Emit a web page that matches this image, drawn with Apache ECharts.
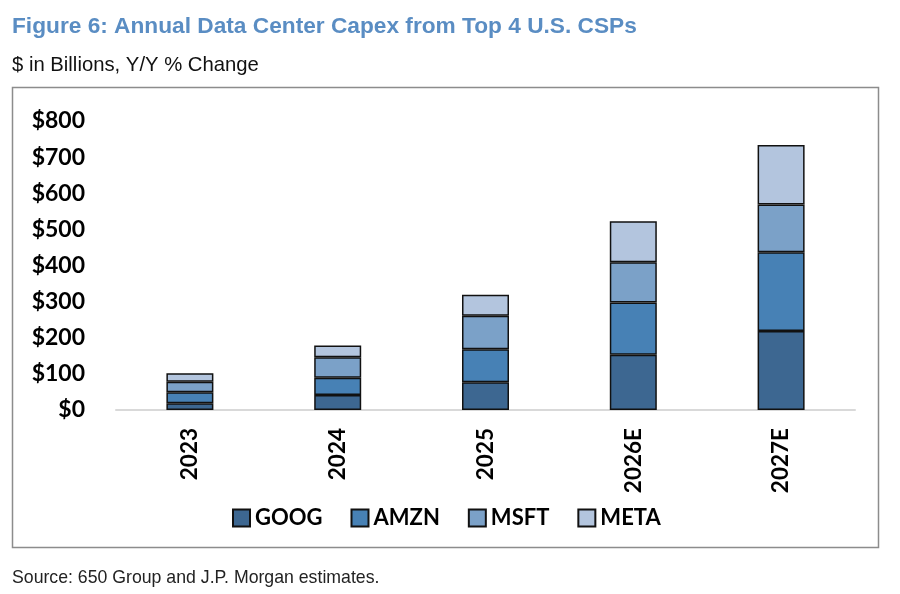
<!DOCTYPE html>
<html><head><meta charset="utf-8">
<script src="https://cdn.jsdelivr.net/npm/echarts@6/dist/echarts.min.js"></script>
<style>html,body{margin:0;padding:0;background:#fff}#c{width:900px;height:594px}</style>
</head><body><div id="c"></div>
<script>
const categories = ['2023', '2024', '2025', '2026E', '2027E'];
const goog = [18.5, 41.6, 76.9, 152.6, 218.4];
const amzn = [30.5, 48.0, 91.5, 145.1, 218.1];
const msft = [29.0, 56.6, 92.4, 111.0, 132.3];
const meta = [23.6, 32.2, 58.2, 113.8, 164.6];
const yTicks = [0, 100, 200, 300, 400, 500, 600, 700, 800];
const seriesNames = ['GOOG', 'AMZN', 'MSFT', 'META'];
const seriesColors = ['#3d6791', '#4781b5', '#7ba1c8', '#b3c5de'];
const seriesData = [goog, amzn, msft, meta];

const chart = echarts.init(document.getElementById('c'));
const axisFont = 'Lato, "Noto Sans", sans-serif';
const narrow = '"Liberation Sans Narrow", "Liberation Sans", Arial, sans-serif';
chart.setOption({
  animation: false,
  grid: { left: 116, right: 45, top: 121, bottom: 184 },
  title: [
    { text: 'Figure 6: Annual Data Center Capex from Top 4 U.S. CSPs', left: 12, top: 15, padding: 0,
      textStyle: { fontFamily: narrow, fontWeight: 'bold', fontSize: 22.7, color: '#5a8dc3' } },
    { text: '$ in Billions, Y/Y % Change', left: 12, top: 55, padding: 0,
      textStyle: { fontFamily: narrow, fontWeight: 'normal', fontSize: 20.3, color: '#111' } },
    { text: 'Source: 650 Group and J.P. Morgan estimates.', left: 12, top: 569, padding: 0,
      textStyle: { fontFamily: narrow, fontWeight: 'normal', fontSize: 17.7, color: '#222' } }
  ],
  graphic: [
    { type: 'rect', shape: { x: 12.5, y: 87.5, width: 866, height: 460 }, style: { fill: 'none', stroke: '#8c8c8c', lineWidth: 1.5 }, z: -1 }
  ],
  legend: {
    left: 227, top: 502, itemWidth: 17, itemHeight: 17, itemGap: 28,
    icon: 'rect',
    data: seriesNames,
    textStyle: { fontFamily: axisFont, fontWeight: 'bold', fontSize: 22, color: '#000' }
  },
  xAxis: {
    type: 'category', data: categories,
    axisLine: { lineStyle: { color: '#d9d9d9', width: 2 } },
    axisTick: { show: false },
    axisLabel: { rotate: 90, margin: 18, fontFamily: axisFont, fontWeight: 'bold', fontSize: 22.5, color: '#000' }
  },
  yAxis: {
    type: 'value', min: 0, max: 800, interval: 100,
    splitLine: { show: false },
    axisLine: { show: false }, axisTick: { show: false },
    axisLabel: { margin: 31, fontFamily: axisFont, fontWeight: 'bold', fontSize: 23, color: '#000',
      formatter: v => yTicks.includes(v) ? '$' + v : '' }
  },
  series: seriesNames.map((n, i) => ({
    name: n, type: 'bar', stack: 'total', data: seriesData[i], barWidth: 47,
    itemStyle: { color: seriesColors[i], borderColor: '#111', borderWidth: 1.5 }
  }))
});
</script></body></html>
